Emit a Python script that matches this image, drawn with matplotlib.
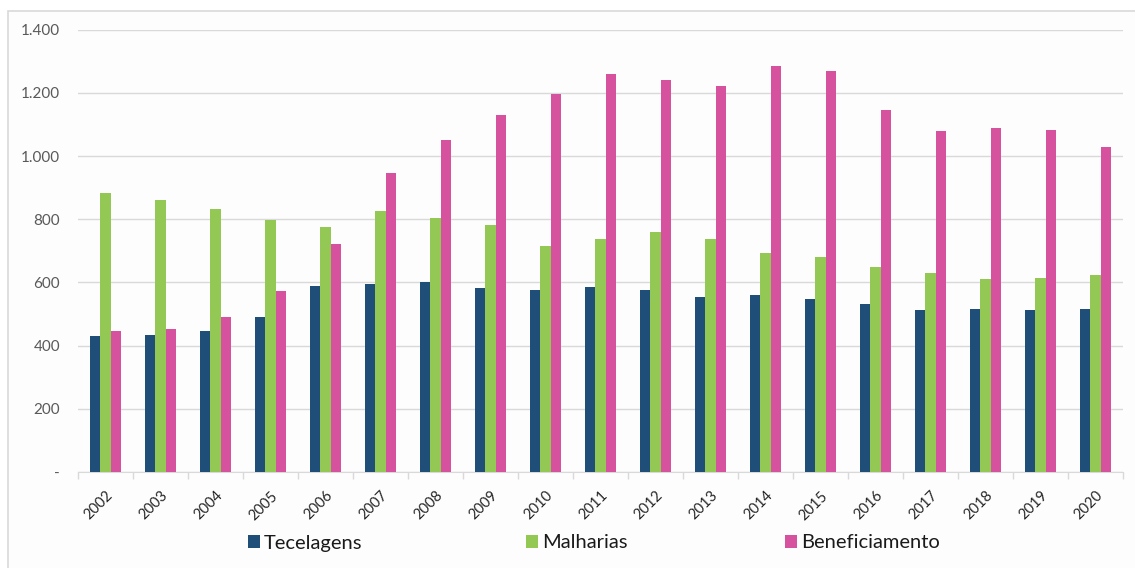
import matplotlib.pyplot as plt
import matplotlib.patches as mpatches
import matplotlib.ticker as mticker
import matplotlib.transforms as mtrans
import numpy as np

plt.rcParams['font.family'] = ['Lato', 'DejaVu Sans']

anos = [str(a) for a in range(2002, 2021)]
tecelagens = [430, 434, 447, 491, 590, 594, 601, 581, 576, 584, 576, 554, 559,
              546, 533, 514, 517, 514, 517]
malharias = [883, 860, 832, 797, 776, 826, 803, 783, 716, 736, 760, 736, 692,
             680, 649, 629, 610, 613, 623]
beneficiamento = [447, 454, 491, 573, 720, 945, 1052, 1129, 1195, 1261, 1241,
                  1221, 1285, 1269, 1146, 1078, 1089, 1082, 1028]

series = [("Tecelagens", tecelagens, "#1f4e79"),
          ("Malharias", malharias, "#92c853"),
          ("Beneficiamento", beneficiamento, "#d6529e")]

fig = plt.figure(figsize=(11.35, 5.68), dpi=100)
fig.patch.set_facecolor("white")
# moldura externa do grafico
fig.patches.append(mpatches.Rectangle((8 / 1135, -0.01), 1.0, 1 - 11 / 568 + 0.01,
                                      transform=fig.transFigure, facecolor="#fdfdfd",
                                      edgecolor="#d9d9d9", linewidth=1.2, zorder=-10))

ax = fig.add_axes([78 / 1135, 1 - 472 / 568, (1123 - 78) / 1135, (472 - 29.6) / 568])
ax.set_facecolor("none")

x = np.arange(len(anos))
w = 0.185
handles = []
for i, (nome, vals, cor) in enumerate(series):
    b = ax.bar(x + (i - 1) * w, vals, width=w, color=cor, label=nome, zorder=3)
    handles.append(b)

ax.set_xlim(-0.5, len(anos) - 0.5)
ax.set_ylim(0, 1400)
ax.set_yticks(range(0, 1401, 200))


def fmt(v, pos):
    if v == 0:
        return "-"
    return "{:,.0f}".format(v).replace(",", ".")


ax.yaxis.set_major_formatter(mticker.FuncFormatter(fmt))
ax.yaxis.grid(True, color="#d9d9d9", linewidth=1, zorder=0)
ax.tick_params(axis="y", length=0, pad=13, labelsize=11, labelcolor="#595959")

ax.set_xticks(x)
ax.set_xticklabels(anos, rotation=45, ha="right", va="top", rotation_mode="anchor",
                   fontsize=10.5, color="#262626")
desloc = mtrans.ScaledTranslation(5 / 100, 0, fig.dpi_scale_trans)
for lbl in ax.get_xticklabels():
    lbl.set_transform(lbl.get_transform() + desloc)
ax.set_xticks(np.arange(-0.5, len(anos)), minor=True)
ax.tick_params(axis="x", which="major", length=0, pad=12)
ax.tick_params(axis="x", which="minor", length=5, color="#d9d9d9", width=1)

for s in ["top", "right", "left"]:
    ax.spines[s].set_visible(False)
ax.spines["bottom"].set_color("#d9d9d9")

# legenda com espacamento igual ao original
pos_leg = [249, 527, 786]
for h, px in zip(handles, pos_leg):
    fig.legend([h], [h.get_label()], loc="center left",
               bbox_to_anchor=((px - 19) / 1135, 1 - 543 / 568), frameon=False,
               fontsize=14.5, handlelength=0.6, handleheight=0.6, handletextpad=0.2,
               labelcolor="#1a1a1a")

fig.savefig("out.png", dpi=100)
plt.close()
